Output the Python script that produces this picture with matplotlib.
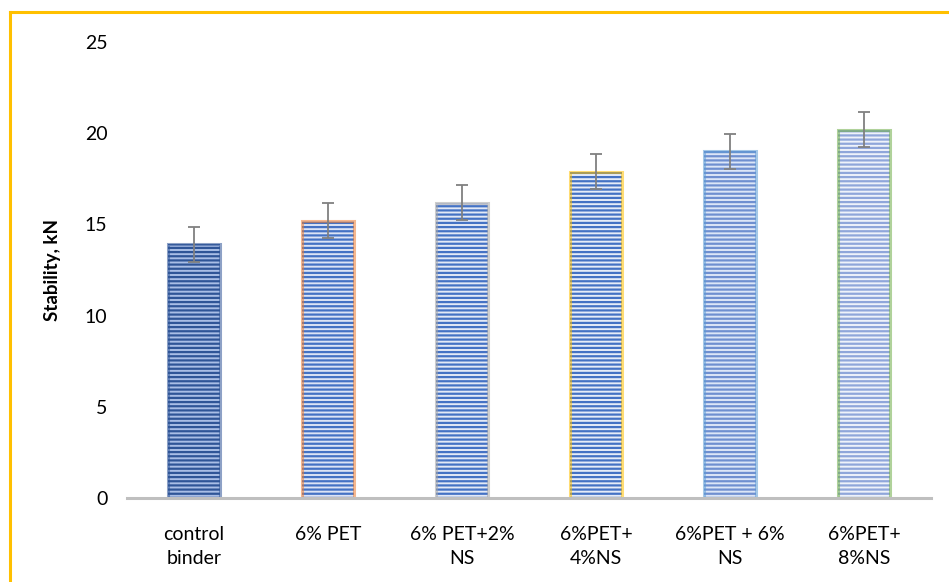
import matplotlib
matplotlib.use("Agg")
import matplotlib.pyplot as plt
from matplotlib.lines import Line2D
import numpy as np

categories = ["control\nbinder", "6% PET", "6% PET+2%\nNS", "6%PET+\n4%NS", "6%PET + 6%\nNS", "6%PET+\n8%NS"]
stability = [13.9, 15.2, 16.2, 17.9, 19.0, 20.2]
errors = [0.95, 0.95, 0.95, 0.95, 0.95, 0.95]
rim_colors = ["#2F5597", "#ED7D31", "#A5A5A5", "#FFC000", "#5B9BD5", "#70AD47"]
stripe_colors = ["#2F5597", "#4472C4", "#4472C4", "#4472C4", "#6F8FD0", "#8FA6DA"]
base_colors = ["#A9BEE6", "#DCE4F5", "#E3E9F6", "#E6ECF8", "#DCE6F7", "#EEF2FA"]
yticks = [0, 5, 10, 15, 20, 25]

plt.rcParams["font.family"] = ["Lato", "DejaVu Sans"]
plt.rcParams["hatch.linewidth"] = 1.6

fig = plt.figure(figsize=(9.49, 5.82), dpi=100)
ax = fig.add_axes([127 / 949, 1 - 498 / 582, (931 - 127) / 949, (498 - 42) / 582])

x = np.arange(len(categories))
w = 0.39
for i in range(len(categories)):
    ax.bar(x[i], stability[i], width=w, color=base_colors[i], edgecolor=stripe_colors[i],
           hatch="----", linewidth=0, zorder=2)
    ax.bar(x[i], stability[i], width=w, color="none", edgecolor=rim_colors[i],
           linewidth=2.2, alpha=0.55, zorder=3)

ax.errorbar(x, stability, yerr=errors, fmt="none", ecolor="#808080", elinewidth=1.3,
            capsize=4.5, capthick=1.3, zorder=4)

ax.set_xlim(-0.5, len(categories) - 0.5)
ax.set_ylim(0, 25)
ax.set_yticks(yticks)
ax.set_xticks(x)
ax.set_xticklabels(categories, fontsize=14, linespacing=1.5)
ax.tick_params(axis="both", length=0, labelsize=14)
ax.tick_params(axis="x", pad=20)
ax.tick_params(axis="y", pad=14)
for s in ["top", "right", "left"]:
    ax.spines[s].set_visible(False)
ax.spines["bottom"].set_color("#BFBFBF")
ax.spines["bottom"].set_linewidth(2.2)
ax.spines["bottom"].set_zorder(5)
ax.set_ylabel("Stability, kN", fontsize=13.5, fontweight="bold", labelpad=17)

# outer gold frame
fig.add_artist(Line2D([10 / 949, 10 / 949], [0, 1 - 12 / 582], transform=fig.transFigure,
                      color="#FFC000", linewidth=2.2))
fig.add_artist(Line2D([10 / 949, 1], [1 - 12 / 582, 1 - 12 / 582], transform=fig.transFigure,
                      color="#FFC000", linewidth=2.2))

fig.savefig("out.png", dpi=100)
